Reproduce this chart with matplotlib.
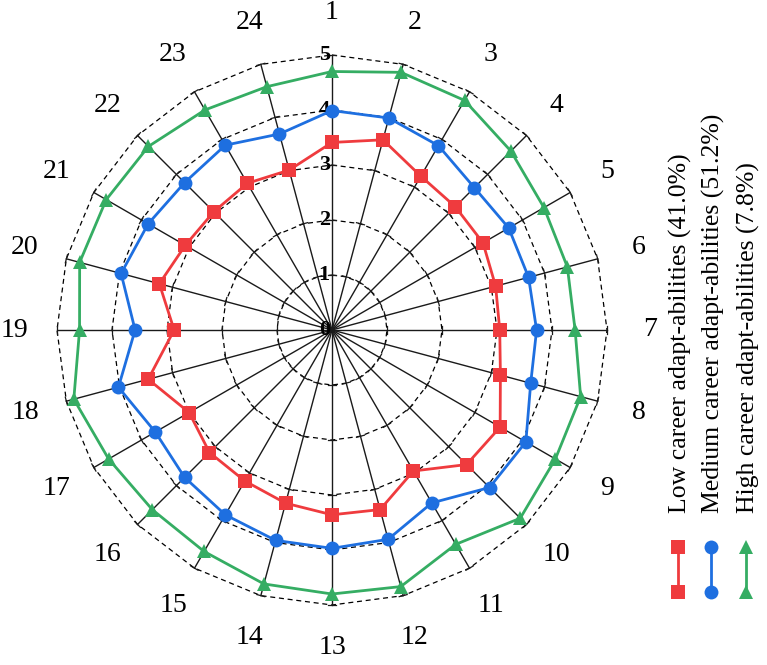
import matplotlib.pyplot as plt
import numpy as np

axes_labels = [str(i) for i in range(1, 25)]
low = [3.41, 3.58, 3.23, 3.17, 3.17, 3.08, 3.05, 3.17, 3.53, 3.46, 2.96, 3.38,
       3.36, 3.26, 3.17, 3.15, 3.00, 3.46, 2.87, 3.25, 3.08, 3.04, 3.08, 3.01]
medium = [3.99, 3.99, 3.87, 3.66, 3.71, 3.70, 3.72, 3.74, 4.07, 4.05, 3.63, 3.94,
          3.97, 3.96, 3.88, 3.79, 3.71, 4.02, 3.58, 3.97, 3.86, 3.79, 3.88, 3.69]
high = [4.70, 4.85, 4.82, 4.60, 4.45, 4.43, 4.42, 4.68, 4.69, 4.84, 4.50, 4.83,
        4.80, 4.78, 4.65, 4.62, 4.69, 4.86, 4.59, 4.75, 4.74, 4.72, 4.62, 4.58]
series_names = ["Low career adapt-abilities (41.0%)",
                "Medium career adapt-abilities (51.2%)",
                "High career adapt-abilities (7.8%)"]
ring_values = [1, 2, 3, 4, 5]

plt.rcParams['font.family'] = ['Liberation Serif', 'DejaVu Serif']

colors = ['#EF3B3E', '#1E6FE0', '#35AD63']
markers = ['s', 'o', '^']

W, H = 767, 665
cx, cy = 332, 330
unit = 55.0

fig = plt.figure(figsize=(W / 100, H / 100), dpi=100)
ax = fig.add_axes([0, 0, 1, 1])
ax.set_xlim(-cx / unit, (W - cx) / unit)
ax.set_ylim(-(H - cy) / unit, cy / unit)
ax.axis('off')

n = len(axes_labels)
theta = np.arange(n) * 2 * np.pi / n  # clockwise from top
sx = np.sin(theta)
sy = np.cos(theta)

# dashed rings (24-gon)
for r in ring_values:
    ax.plot(np.append(sx, sx[0]) * r, np.append(sy, sy[0]) * r, color='black',
            lw=0.9, dashes=(4, 3), zorder=1)

# spokes with ticks
tl = 0.075
for i in range(n):
    ax.plot([0, sx[i] * 5], [0, sy[i] * 5], color='#1a1a1a', lw=1.0, zorder=1)
    px, py = -sy[i], sx[i]
    for r in ring_values:
        x0, y0 = sx[i] * r, sy[i] * r
        ax.plot([x0 - px * tl, x0 + px * tl], [y0 - py * tl, y0 + py * tl],
                color='#1a1a1a', lw=0.9, zorder=1)

# radial labels
for r in [0] + ring_values:
    ax.text(-0.14, r, str(r), fontsize=16, fontweight='bold', ha='center',
            va='center', zorder=2)

# category labels
for i in range(n):
    ax.text(sx[i] * 5.78, sy[i] * 5.78, axes_labels[i], fontsize=20,
            ha='center', va='center')

for vals, c, m in zip([low, medium, high], colors, markers):
    v = np.array(vals + vals[:1])
    xs = np.append(sx, sx[0]) * v
    ys = np.append(sy, sy[0]) * v
    ax.plot(xs, ys, color=c, lw=2, zorder=3)
    ax.plot(xs[:-1], ys[:-1], color=c, marker=m, ls='none', ms=10,
            markeredgewidth=0, zorder=4)

# vertical legend on the right
leg_x = [678, 711, 746]
for name, c, m, lx in zip(series_names, colors, markers, leg_x):
    x = (lx - cx) / unit
    y_top = (cy - 547) / unit
    y_bot = (cy - 592) / unit
    ax.plot([x, x], [y_top, y_bot], color=c, lw=2, zorder=3)
    ax.plot([x, x], [y_top, y_bot], color=c, marker=m, ls='none', ms=10,
            markeredgewidth=0, zorder=4)
    ax.text(x + 2 / unit, (cy - 513) / unit, name, rotation=90, fontsize=18.5,
            ha='center', va='bottom')

plt.savefig("out.png", dpi=100)
